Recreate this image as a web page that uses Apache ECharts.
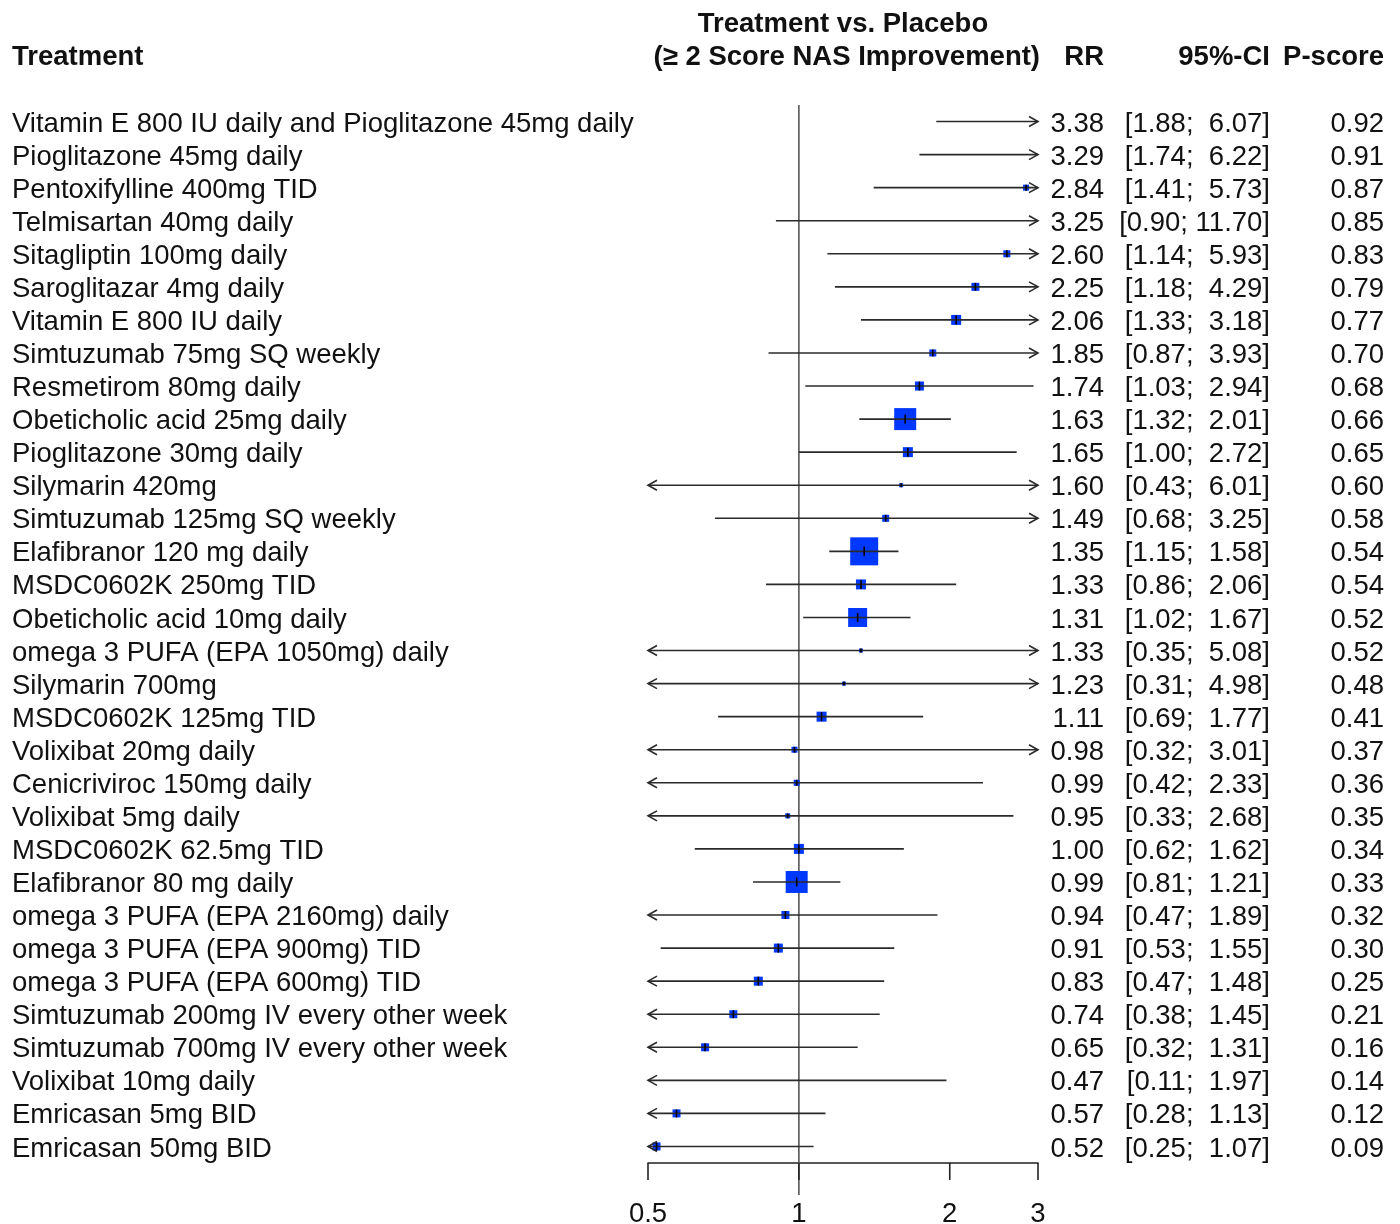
<!DOCTYPE html>
<html>
<head>
<meta charset="utf-8">
<script src="https://cdn.jsdelivr.net/npm/echarts@6/dist/echarts.min.js"></script>
<style>
html,body{margin:0;padding:0;background:#fff;}
#chart{width:1400px;height:1224px;}
</style>
</head>
<body>
<div id="chart"></div>
<script>
const treatments = [
  "Vitamin E 800 IU daily and Pioglitazone 45mg daily",
  "Pioglitazone 45mg daily",
  "Pentoxifylline 400mg TID",
  "Telmisartan 40mg daily",
  "Sitagliptin 100mg daily",
  "Saroglitazar 4mg daily",
  "Vitamin E 800 IU daily",
  "Simtuzumab 75mg SQ weekly",
  "Resmetirom 80mg daily",
  "Obeticholic acid 25mg daily",
  "Pioglitazone 30mg daily",
  "Silymarin 420mg",
  "Simtuzumab 125mg SQ weekly",
  "Elafibranor 120 mg daily",
  "MSDC0602K 250mg TID",
  "Obeticholic acid 10mg daily",
  "omega 3 PUFA (EPA 1050mg) daily",
  "Silymarin 700mg",
  "MSDC0602K 125mg TID",
  "Volixibat 20mg daily",
  "Cenicriviroc 150mg daily",
  "Volixibat 5mg daily",
  "MSDC0602K 62.5mg TID",
  "Elafibranor 80 mg daily",
  "omega 3 PUFA (EPA 2160mg) daily",
  "omega 3 PUFA (EPA 900mg) TID",
  "omega 3 PUFA (EPA 600mg) TID",
  "Simtuzumab 200mg IV every other week",
  "Simtuzumab 700mg IV every other week",
  "Volixibat 10mg daily",
  "Emricasan 5mg BID",
  "Emricasan 50mg BID"
];
const rr = [3.38,3.29,2.84,3.25,2.60,2.25,2.06,1.85,1.74,1.63,1.65,1.60,1.49,1.35,1.33,1.31,1.33,1.23,1.11,0.98,0.99,0.95,1.00,0.99,0.94,0.91,0.83,0.74,0.65,0.47,0.57,0.52];
const ciLower = [1.88,1.74,1.41,0.90,1.14,1.18,1.33,0.87,1.03,1.32,1.00,0.43,0.68,1.15,0.86,1.02,0.35,0.31,0.69,0.32,0.42,0.33,0.62,0.81,0.47,0.53,0.47,0.38,0.32,0.11,0.28,0.25];
const ciUpper = [6.07,6.22,5.73,11.70,5.93,4.29,3.18,3.93,2.94,2.01,2.72,6.01,3.25,1.58,2.06,1.67,5.08,4.98,1.77,3.01,2.33,2.68,1.62,1.21,1.89,1.55,1.48,1.45,1.31,1.97,1.13,1.07];
const pScore = [0.92,0.91,0.87,0.85,0.83,0.79,0.77,0.70,0.68,0.66,0.65,0.60,0.58,0.54,0.54,0.52,0.52,0.48,0.41,0.37,0.36,0.35,0.34,0.33,0.32,0.30,0.25,0.21,0.16,0.14,0.12,0.09];
const boxWeight = [6,6,6,3,7,8,10,7,9,22,10,4,7,28,10,19,4,4,10,6,6,5,10,22,8,9,9,8,8,3,8,8];
const xTicks = [0.5, 1, 2, 3];
const xMin = 0.5, xMax = 3;

const FONT = "'Liberation Sans', Arial, Helvetica, sans-serif";
const FS = 27.5;
const BOX_SCALE = 1.0;
const TEXT_DY = 2.5;
const COL_LABEL = 12, COL_RR = 1104, COL_CI = 1270, COL_P = 1384;

const rowData = treatments.map((t, i) => [i, rr[i], ciLower[i], ciUpper[i], boxWeight[i]]);

function fmtCI(lo, hi) {
  const pad = hi >= 10 ? ' ' : '  ';
  return '[' + lo.toFixed(2) + ';' + pad + hi.toFixed(2) + ']';
}

const chart = echarts.init(document.getElementById('chart'), null, {renderer: 'canvas'});

const bold = 'bold ' + FS + 'px ' + FONT;
const option = {
  animation: false,
  backgroundColor: '#fff',
  grid: {left: 648, width: 390, top: 105, height: 1058, containLabel: false},
  xAxis: {
    type: 'log', logBase: 2, min: xMin, max: xMax,
    axisLine: {show: true, onZero: false, lineStyle: {color: '#222', width: 1.6}},
    axisTick: {show: false}, axisLabel: {show: false}, splitLine: {show: false}
  },
  yAxis: {
    type: 'category', data: treatments, inverse: true,
    axisLine: {show: false}, axisTick: {show: false}, splitLine: {show: false},
    axisLabel: {show: false}
  },
  graphic: [
    {type: 'text', x: COL_LABEL, y: 55 + TEXT_DY, style: {text: 'Treatment', font: bold, fill: '#111', align: 'left', verticalAlign: 'middle'}},
    {type: 'text', x: 843, y: 22 + TEXT_DY, style: {text: 'Treatment vs. Placebo', font: bold, fill: '#111', align: 'center', verticalAlign: 'middle'}},
    {type: 'text', x: 1040, y: 55 + TEXT_DY, style: {text: '(\u2265 2 Score NAS Improvement)', font: bold, fill: '#111', align: 'right', verticalAlign: 'middle'}},
    {type: 'text', x: COL_RR, y: 55 + TEXT_DY, style: {text: 'RR', font: bold, fill: '#111', align: 'right', verticalAlign: 'middle'}},
    {type: 'text', x: COL_CI, y: 55 + TEXT_DY, style: {text: '95%-CI', font: bold, fill: '#111', align: 'right', verticalAlign: 'middle'}},
    {type: 'text', x: COL_P, y: 55 + TEXT_DY, style: {text: 'P-score', font: bold, fill: '#111', align: 'right', verticalAlign: 'middle'}}
  ],
  series: [
    {
      // reference line at RR = 1
      type: 'custom', silent: true, data: [[1, 0]], encode: {x: 0, y: 1}, clip: false, z: 1,
      renderItem: function (params, api) {
        const cs = params.coordSys;
        const x = api.coord([api.value(0), 0])[0];
        return {type: 'line', shape: {x1: x, y1: cs.y, x2: x, y2: cs.y + cs.height + 32},
                style: {stroke: '#555', lineWidth: 1.6}};
      }
    },
    {
      // axis ticks and labels
      type: 'custom', silent: true, data: xTicks.map(v => [v, 0]), encode: {x: 0, y: 1}, clip: false, z: 2,
      renderItem: function (params, api) {
        const cs = params.coordSys;
        const v = api.value(0);
        const x = api.coord([v, 0])[0];
        const yb = cs.y + cs.height;
        return {type: 'group', children: [
          {type: 'line', shape: {x1: x, y1: yb, x2: x, y2: yb + 17}, style: {stroke: '#222', lineWidth: 1.6}},
          {type: 'text', x: x, y: yb + 49 + TEXT_DY, style: {text: String(v), font: FS + 'px ' + FONT, fill: '#111', align: 'center', verticalAlign: 'middle'}}
        ]};
      }
    },
    {
      // forest rows
      type: 'custom', silent: true, data: rowData, encode: {x: 1, y: 0}, clip: false, z: 3,
      renderItem: function (params, api) {
        const cs = params.coordSys;
        const i = api.value(0);
        const est = api.value(1), lo = api.value(2), hi = api.value(3), w = api.value(4);
        const xmin = cs.x, xmax = cs.x + cs.width;
        const y = api.coord([1, i])[1];
        const xl = Math.max(xmin, api.coord([lo, i])[0]);
        const xr = Math.min(xmax, api.coord([hi, i])[0]);
        const ch = [];
        const inRange = est >= xMin && est <= xMax;
        const xe = api.coord([est, i])[0];
        const s = w * BOX_SCALE;
        if (inRange) {
          ch.push({type: 'rect', shape: {x: xe - s / 2, y: y - s / 2, width: s, height: s}, style: {fill: '#0038ff'}});
        }
        ch.push({type: 'line', shape: {x1: xl, y1: y, x2: xr, y2: y}, style: {stroke: '#2a2a2a', lineWidth: 1.6}});
        if (lo < xMin) {
          ch.push({type: 'polyline', shape: {points: [[xmin + 9, y - 5], [xmin, y], [xmin + 9, y + 5]]}, style: {stroke: '#2a2a2a', lineWidth: 1.6, fill: null}});
        }
        if (hi > xMax) {
          ch.push({type: 'polyline', shape: {points: [[xmax - 9, y - 5], [xmax, y], [xmax - 9, y + 5]]}, style: {stroke: '#2a2a2a', lineWidth: 1.6, fill: null}});
        }
        if (inRange) {
          const t = Math.min(s, 9);
          ch.push({type: 'line', shape: {x1: xe, y1: y - t / 2, x2: xe, y2: y + t / 2}, style: {stroke: '#000', lineWidth: 1.6}});
        }
        return {type: 'group', children: ch};
      }
    },
    {
      // text columns
      type: 'custom', silent: true, data: rowData, encode: {x: 1, y: 0}, clip: false, z: 4,
      renderItem: function (params, api) {
        const i = api.value(0);
        const y = api.coord([1, i])[1] + TEXT_DY;
        const st = (txt, al) => ({text: txt, font: FS + 'px ' + FONT, fill: '#111', align: al || 'right', verticalAlign: 'middle'});
        return {type: 'group', children: [
          {type: 'text', x: COL_LABEL, y: y, style: st(treatments[i], 'left')},
          {type: 'text', x: COL_RR, y: y, style: st(rr[i].toFixed(2))},
          {type: 'text', x: COL_CI, y: y, style: st(fmtCI(ciLower[i], ciUpper[i]))},
          {type: 'text', x: COL_P, y: y, style: st(pScore[i].toFixed(2))}
        ]};
      }
    }
  ]
};
chart.setOption(option);
</script>
</body>
</html>
